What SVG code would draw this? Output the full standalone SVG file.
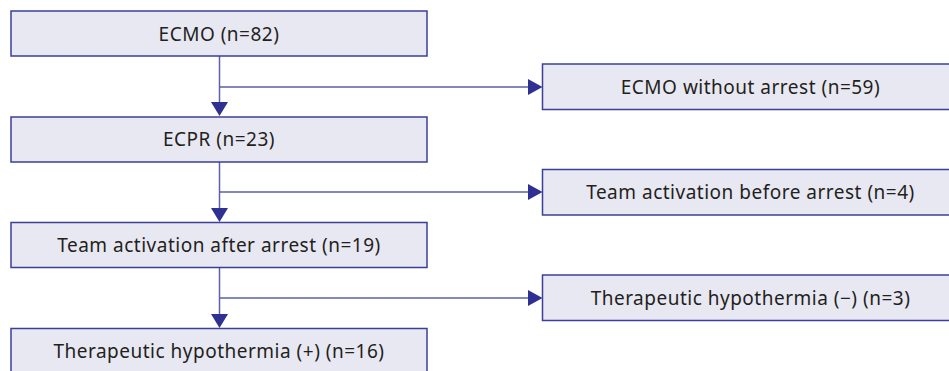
<svg xmlns="http://www.w3.org/2000/svg" width="949" height="371" viewBox="0 0 949 371">
<defs>
<style>
.box{fill:#e8e8f3;stroke:#3b3f98;stroke-width:1.5}
.lbl{font-family:"Noto Sans","Open Sans",sans-serif;font-size:19px;letter-spacing:0.5px;fill:#231f20;text-anchor:middle}
.ln{fill:none;stroke:#5c60aa;stroke-width:1.5}
.ah{fill:#2e3192}
</style>
</defs>
<rect width="949" height="371" fill="#ffffff"/>
<g id="connectors">
<path class="ln" d="M219.5 56V104M219.5 162V209M219.5 268V315"/>
<path class="ln" d="M219.5 87H530M219.5 192H530M219.5 298H530"/>
<path class="ah" d="M211 102H228L219.5 116Z"/>
<path class="ah" d="M211 208H228L219.5 222Z"/>
<path class="ah" d="M211 314H228L219.5 328Z"/>
<path class="ah" d="M528 79L542.5 87L528 95Z"/>
<path class="ah" d="M528 184L542.5 192L528 200Z"/>
<path class="ah" d="M528 290L542.5 298L528 306Z"/>
</g>
<g id="ecmo">
<rect class="box" x="11" y="11" width="416" height="45"/>
<text class="lbl" x="219" y="40.5">ECMO (n=82)</text>
</g>
<g id="ecpr">
<rect class="box" x="11" y="117" width="416" height="45"/>
<text class="lbl" x="219" y="146">ECPR (n=23)</text>
</g>
<g id="team-after">
<rect class="box" x="11" y="222.5" width="416" height="45"/>
<text class="lbl" x="219" y="252">Team activation after arrest (n=19)</text>
</g>
<g id="th-plus">
<rect class="box" x="11" y="328.5" width="416" height="45"/>
<text class="lbl" x="219" y="358">Therapeutic hypothermia (+) (n=16)</text>
</g>
<g id="ecmo-without">
<rect class="box" x="542.5" y="64" width="416" height="45.5"/>
<text class="lbl" x="750.5" y="93.5">ECMO without arrest (n=59)</text>
</g>
<g id="team-before">
<rect class="box" x="542.5" y="169.5" width="416" height="45.5"/>
<text class="lbl" x="750.5" y="199">Team activation before arrest (n=4)</text>
</g>
<g id="th-minus">
<rect class="box" x="542.5" y="275" width="416" height="45.5"/>
<text class="lbl" x="750.5" y="305">Therapeutic hypothermia (−) (n=3)</text>
</g>
</svg>
